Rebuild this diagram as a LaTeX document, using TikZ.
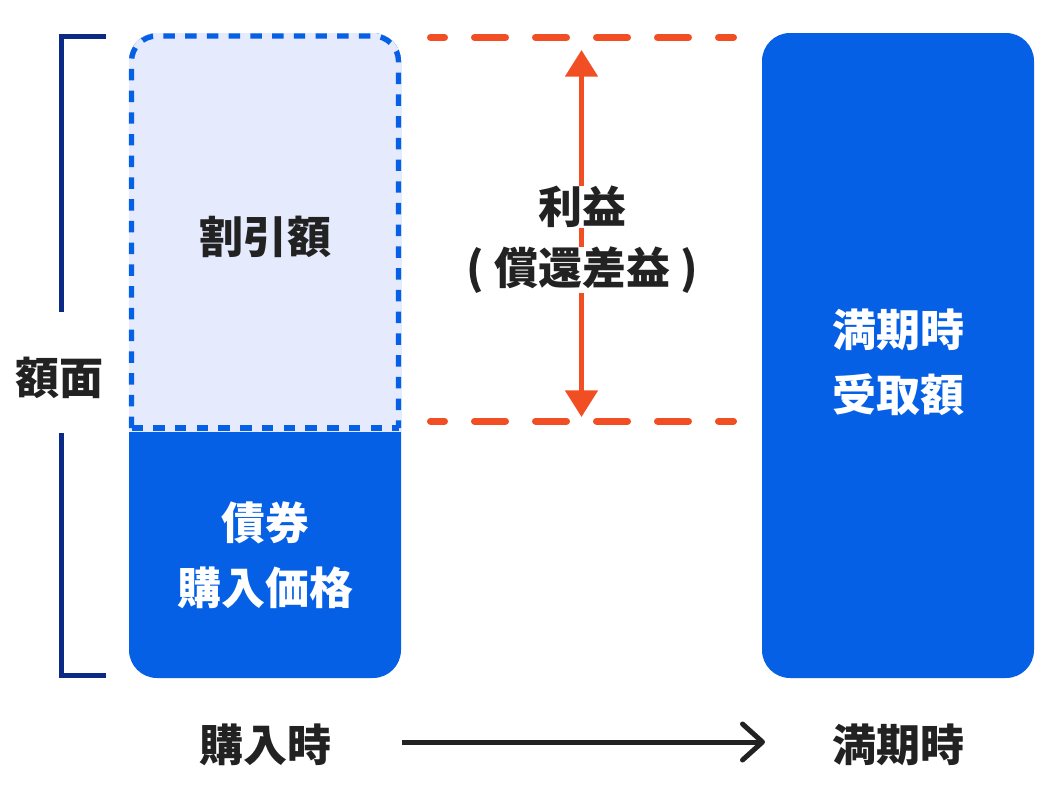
\documentclass[tikz,border=0pt]{standalone}
\usepackage{fontspec}
\setmainfont{Noto Sans CJK JP}
\usetikzlibrary{arrows.meta}
\definecolor{bondblue}{RGB}{5,96,229}
\definecolor{paleblue}{RGB}{229,234,253}
\definecolor{navy}{RGB}{11,42,134}
\definecolor{gainred}{RGB}{242,78,35}
\definecolor{ink}{RGB}{34,34,34}

\begin{document}
\begin{tikzpicture}[x=0.75pt, y=-0.75pt,
  label/.style={font=\fontsize{33}{48.5}\selectfont\bfseries, text=ink, align=center},
  boxtext/.style={label, text=white},
  gaintext/.style={label, fill=white, inner sep=0pt},
  bracket/.style={navy, line width=3.75pt},
  blueline/.style={bondblue, line width=4pt, dash pattern=on 8.6pt off 7.7pt},
  redline/.style={gainred, line width=5.25pt, line cap=round, dash pattern=on 23.25pt off 22.5pt, dash phase=12.75pt}]
\useasboundingbox (0,0) rectangle (1050,807);
% purchase price and discount
\fill[bondblue, rounded corners=21pt] (129,33) rectangle (401,678);
\begin{scope}
\clip (120,20) rectangle (410,431);
\fill[paleblue, rounded corners=21pt] (129,33) rectangle (401,500);
\end{scope}
\draw[blueline, rounded corners=19pt] (131.5,428) -- (131.5,36) -- (398.5,36) -- (398.5,428);
\draw[blueline] (131.5,428) -- (398.5,428);
% redemption amount
\fill[bondblue, rounded corners=21pt] (762,33) rectangle (1034,678);

% face value bracket
\node[label] (face) at (60,378) {額面};
\coordinate (face top) at (106,36);
\coordinate (face bot) at (106,675.5);
\draw[bracket] (face top) -- (61.5,36) -- (61.5,312);
\draw[bracket] (61.5,433) -- (61.5,675.5) -- (face bot);

\node[label] (discount) at (265,237) {割引額};
\node[boxtext] (price) at (265,555) {債券\\購入価格};
\node[boxtext] (payout) at (898,362) {満期時\\受取額};

% gain levels
\coordinate (par l) at (430.5,37.5);
\coordinate (par r) at (733.5,37.5);
\coordinate (buy l) at (430.5,421);
\coordinate (buy r) at (733.5,421);
\draw[redline] (par l) -- (par r);
\draw[redline] (buy l) -- (buy r);
\coordinate (gain top) at (581.5,50);
\coordinate (gain bot) at (581.5,417);
\draw[gainred, line width=3.75pt, {Triangle[width=24pt,length=20pt]}-{Triangle[width=24pt,length=20pt]}] (gain top) -- (gain bot);
\node[gaintext] (gain) at (582,207) {利益};
\node[gaintext] (gainsub) at (582,270) {( 償還差益 )};

% time axis
\node[label] (buytime) at (265,745) {購入時};
\node[label] (endtime) at (898,745) {満期時};
\coordinate (axis l) at (402,742);
\coordinate (axis r) at (765,742);
\draw[ink, line width=3.75pt, -{Straight Barb[length=15pt,width=27pt,round]}] (axis l) -- (axis r);
\end{tikzpicture}
\end{document}
